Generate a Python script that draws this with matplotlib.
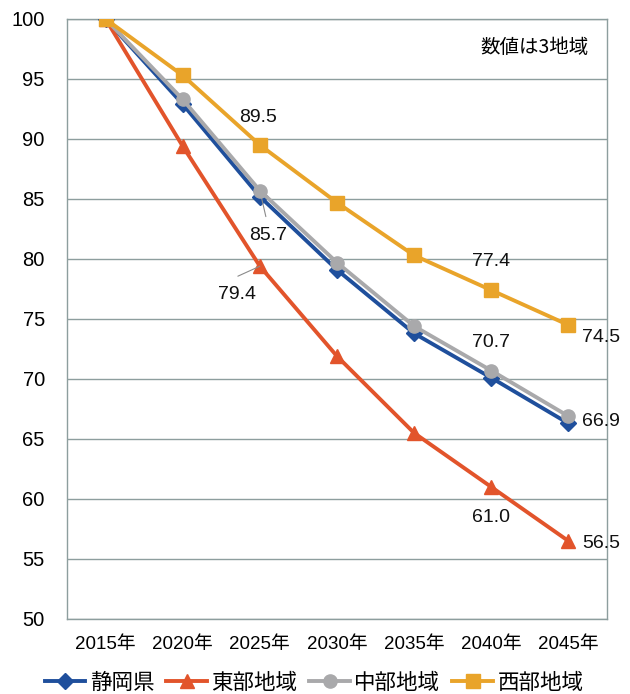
import matplotlib
matplotlib.use("Agg")
import matplotlib.pyplot as plt

plt.rcParams['font.family'] = ['Liberation Sans', 'Noto Sans CJK JP', 'DejaVu Sans']

years = ["2015年", "2020年", "2025年", "2030年", "2035年", "2040年", "2045年"]
shizuoka = [100, 92.9, 85.2, 79.1, 73.8, 70.1, 66.3]
tobu = [100, 89.4, 79.4, 71.9, 65.5, 61.0, 56.5]
chubu = [100, 93.3, 85.7, 79.7, 74.4, 70.7, 66.9]
seibu = [100, 95.3, 89.5, 84.7, 80.3, 77.4, 74.5]
series_names = ["静岡県", "東部地域", "中部地域", "西部地域"]
yticks = [50, 55, 60, 65, 70, 75, 80, 85, 90, 95, 100]
note = "数値は3地域"

# labels: (series, index, dx px, dy px)
label_specs = [
    ("seibu", 2, -2, 28), ("chubu", 2, 8, -45), ("tobu", 2, -23, -28),
    ("seibu", 5, 0, 29), ("chubu", 5, 0, 28), ("tobu", 5, 0, -31),
    ("seibu", 6, 33, -12), ("chubu", 6, 33, -5), ("tobu", 6, 33, -3),
]

fig = plt.figure(figsize=(6.3, 6.94), dpi=100)
ax = fig.add_axes([67/630, 1-619/694, 540/630, 600/694])

x = list(range(len(years)))
c_blue = "#1f4f9c"
c_red = "#e2542b"
c_gray = "#a9a9ab"
c_yel = "#e9a42a"

l1, = ax.plot(x, shizuoka, color=c_blue, lw=2.8, marker="D", ms=8, zorder=3, label=series_names[0])
l2, = ax.plot(x, tobu, color=c_red, lw=2.8, marker="^", ms=10, zorder=3, label=series_names[1])
l3, = ax.plot(x, chubu, color=c_gray, lw=2.8, marker="o", ms=9.5, zorder=4, label=series_names[2])
l4, = ax.plot(x, seibu, color=c_yel, lw=2.8, marker="s", ms=9.5, zorder=5, label=series_names[3])

data = {"seibu": seibu, "chubu": chubu, "tobu": tobu}
for name, i, dx, dy in label_specs:
    v = data[name][i]
    ax.annotate(f"{v:.1f}", xy=(x[i], v), xytext=(dx, dy), textcoords="offset pixels",
                ha="center", va="center", fontsize=14, color="#111111",
                annotation_clip=False, zorder=6)

# leader lines (styling)
def leader(i, v, p1):
    ax.annotate("", xy=(x[i], v), xycoords="data", xytext=p1, textcoords="offset pixels",
                arrowprops=dict(arrowstyle="-", color="#8a8a8a", lw=0.8, shrinkA=0, shrinkB=0),
                annotation_clip=False)
leader(2, tobu[2], (-22, -10))
leader(2, chubu[2], (6, -26))

ax.set_xlim(-0.5, 6.5)
ax.set_ylim(50, 100)
ax.set_yticks(yticks)
ax.set_xticks(x)
ax.set_xticklabels(years, fontsize=13.5)
ax.tick_params(axis="y", length=0, pad=16, labelsize=14.5)
ax.tick_params(axis="x", length=0, pad=12)
ax.grid(axis="y", color="#8d9e9e", lw=1.0)
ax.set_axisbelow(True)
for s in ax.spines.values():
    s.set_color("#8d9e9e")
    s.set_linewidth(1.0)

ax.text(0.965, 0.952, note, transform=ax.transAxes, ha="right", va="center", fontsize=14,
        family=['Noto Sans CJK JP', 'DejaVu Sans'])

leg = fig.legend(handles=[l1, l2, l3, l4], loc="center", bbox_to_anchor=(314/630, 1-683/694),
                 ncol=4, frameon=False, handlelength=1.9, handletextpad=0.2,
                 columnspacing=0.55, borderaxespad=0, prop={'family': ['Noto Sans CJK JP'], 'size': 15.5})

fig.savefig("out.png", dpi=100)
